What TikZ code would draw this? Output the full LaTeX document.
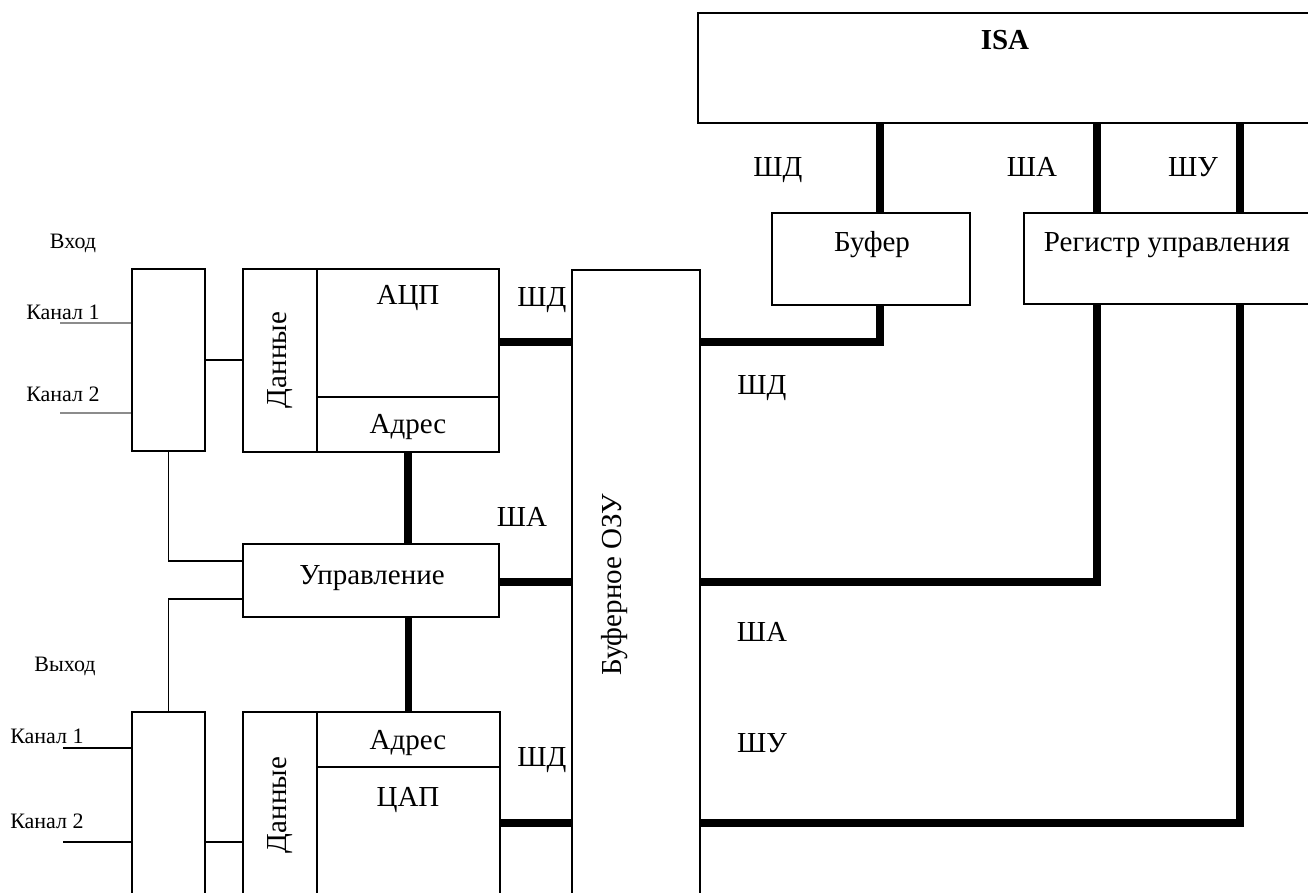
\documentclass[tikz,border=0pt]{standalone}
\usepackage{fontspec}
\setmainfont{Liberation Serif}
\usetikzlibrary{fit}
\tikzset{
  box/.style={draw, line width=1pt, inner sep=0pt},
  bus/.style={line width=3.6pt},
  wire/.style={line width=0.9pt},
  chan/.style={line width=0.8pt, black!45},
  lbl/.style={inner sep=0pt, text height=0.66em, text depth=0pt, font=\fontsize{14.5}{17}\selectfont},
  small/.style={lbl, font=\fontsize{11}{13}\selectfont},
}
\begin{document}
\begin{tikzpicture}[x=0.5pt, y=-0.5pt]
    % picture is measured in pixels of the scan, y going down
    \useasboundingbox (0,0) rectangle (1308,893);

    % ISA side
    \node[box, fit={(698,13) (1315,123)}] (isa) {};
    \node[box, fit={(772,213) (970,305)}] (buf) {};
    \node[box, fit={(1024,213) (1315,304)}] (reg) {};
    \node[box, fit={(572,270) (700,900)}] (ram) {};
    % input channels
    \node[box, fit={(132,269) (205,451)}] (muxin) {};
    \node[box, fit={(243,269) (317,452)}] (datin) {};
    \node[box, fit={(317,269) (499,397)}] (adc) {};
    \node[box, fit={(317,397) (499,452)}] (adra) {};
    \node[box, fit={(243,544) (499,617)}] (ctl) {};
    % output channels
    \node[box, fit={(132,712) (205,900)}] (muxout) {};
    \node[box, fit={(243,712) (317,900)}] (datout) {};
    \node[box, fit={(317,712) (500,767)}] (adrd) {};
    \node[box, fit={(317,767) (500,900)}] (dac) {};

    % texts in the blocks
    \node[lbl] (isat) at (1005,43) {\textbf{ISA}};
    \node[lbl] (buft) at (872,245) {Буфер};
    \node[lbl] (regt) at (1167,245) {Регистр управления};
    \node[lbl, rotate=90] (ramt) at (615,585) {Буферное ОЗУ};
    \node[lbl, rotate=90] (datint) at (280,360) {Данные};
    \node[lbl, rotate=90] (datoutt) at (280,805) {Данные};
    \node[lbl] (adct) at (408,298) {АЦП};
    \node[lbl] (adrat) at (408,427) {Адрес};
    \node[lbl] (adrdt) at (408,743) {Адрес};
    \node[lbl] (dact) at (408,800) {ЦАП};
    \node[lbl] (ctlt) at (372,578) {Управление};

    % bus names
    \foreach \n/\x/\y/\t in {sd1/778/170/ШД, sa1/1032/170/ША, su1/1193/170/ШУ,
        sd2/762/388/ШД, sa2/762/635/ША, su2/762/746/ШУ,
        sd3/542/300/ШД, sa3/522/520/ША, sd4/542/760/ШД}
        \node[lbl] (\n) at (\x,\y) {\t};

    % channel names
    \foreach \n/\x/\y/\t in {inh/73/242/Вход, in1/63/313/Канал 1, in2/63/395/Канал 2,
        outh/65/665/Выход, out1/47/737/Канал 1, out2/47/822/Канал 2}
        \node[small] (\n) at (\x,\y) {\t};

    % buses from ISA
    \draw[bus] (880,0 |- isa.south) -- (880,0 |- buf.north);
    \draw[bus] (1097,0 |- isa.south) -- (1097,0 |- reg.north);
    \draw[bus] (1240,0 |- isa.south) -- (1240,0 |- reg.north);
    \draw[bus] (880,0 |- buf.south) |- (ram.east |- 0,342);
    \draw[bus] (1097,0 |- reg.south) |- (ram.east |- 0,582);
    \draw[bus] (1240,0 |- reg.south) |- (ram.east |- 0,823);
    % buses to the buffer RAM
    \draw[bus] (adc.east |- 0,342) -- (ram.west |- 0,342);
    \draw[bus] (ctl.east |- 0,582) -- (ram.west |- 0,582);
    \draw[bus] (dac.east |- 0,823) -- (ram.west |- 0,823);
    \draw[bus] (adra.south) -- (adra.south |- ctl.north);
    \draw[bus] (adrd.north) -- (adrd.north |- ctl.south);

    % thin links
    \draw[wire] (muxin.east) -- (datin.west |- muxin.east);
    \draw[wire] (muxin.south) |- (ctl.west |- 0,561);
    \draw[wire] (ctl.west |- 0,599) -| (muxout.north);
    \draw[wire] (muxout.east |- 0,842) -- (datout.west |- 0,842);
    \foreach \c/\y in {ci1/323, ci2/413} {
        \coordinate (\c) at (60,\y);
        \draw[chan] (\c) -- (muxin.west |- \c);
    }
    \foreach \c/\y in {co1/748, co2/842} {
        \coordinate (\c) at (63,\y);
        \draw[wire] (\c) -- (muxout.west |- \c);
    }
\end{tikzpicture}
\end{document}
